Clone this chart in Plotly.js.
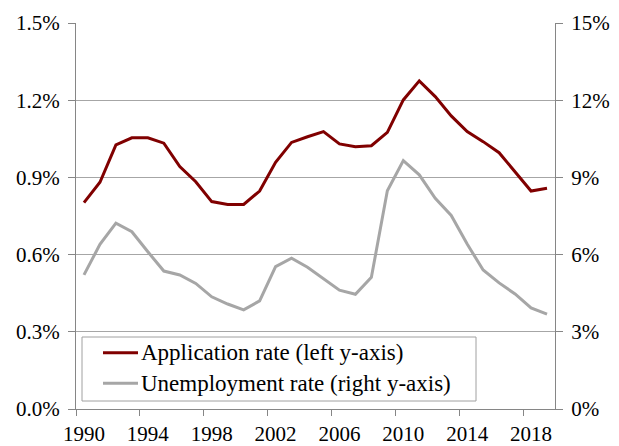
<!DOCTYPE html>
<html>
<head>
<meta charset="utf-8">
<script src="https://cdn.plot.ly/plotly-3.0.1.min.js"></script>
<style>html,body{margin:0;padding:0;background:#fff;}#chart{width:619px;height:446px;}</style>
</head>
<body>
<div id="chart"></div>
<script>
const years = [1990,1991,1992,1993,1994,1995,1996,1997,1998,1999,2000,2001,2002,2003,2004,2005,2006,2007,2008,2009,2010,2011,2012,2013,2014,2015,2016,2017,2018,2019];
// Application rate, % (left axis)
const applicationRate = [0.802,0.881,1.026,1.054,1.054,1.033,0.942,0.883,0.806,0.795,0.795,0.847,0.959,1.036,1.058,1.078,1.030,1.019,1.023,1.075,1.201,1.275,1.214,1.139,1.078,1.039,0.996,0.920,0.847,0.858];
// Unemployment rate, % (right axis)
const unemploymentRate = [5.21,6.40,7.22,6.89,6.11,5.36,5.21,4.88,4.36,4.08,3.85,4.20,5.53,5.86,5.51,5.05,4.62,4.46,5.12,8.48,9.65,9.10,8.19,7.52,6.41,5.40,4.90,4.47,3.93,3.69];
const seriesNames = ['Application rate (left y-axis)', 'Unemployment rate (right y-axis)'];
const seriesColors = ['#800000', '#a6a6a6'];
const xTickLabels = ['1990','1994','1998','2002','2006','2010','2014','2018'];
const xTickPositions = xTickLabels.map(s => Number(s) - 0.5);
const leftTicks = [0,0.3,0.6,0.9,1.2,1.5];
const rightTicks = [0,3,6,9,12,15];

const FAMILY = 'Liberation Serif';
const font = {family: FAMILY, size: 21, color: '#000'};
const axisGray = '#868686';

// plot-area geometry (px) used to place the legend box in paper coordinates
const W = 619, H = 446, M = {l: 76, r: 64, t: 23, b: 37};
const pw = W - M.l - M.r, ph = H - M.t - M.b;
const px = v => (v - M.l) / pw;
const py = v => (H - M.b - v) / ph;

const traces = [
  {x: years, y: applicationRate, type: 'scatter', mode: 'lines', name: seriesNames[0],
   line: {color: seriesColors[0], width: 3}, yaxis: 'y', showlegend: false},
  {x: years, y: unemploymentRate, type: 'scatter', mode: 'lines', name: seriesNames[1],
   line: {color: seriesColors[1], width: 3}, yaxis: 'y2', showlegend: false}
];

const legendRows = [352.7, 383.3];
const shapes = [
  {type: 'rect', xref: 'paper', yref: 'paper', x0: px(82), x1: px(476), y0: py(401), y1: py(337),
   fillcolor: '#fff', line: {color: '#a0a0a0', width: 1}, layer: 'above'}
].concat(legendRows.map((r, i) => ({
  type: 'line', xref: 'paper', yref: 'paper', x0: px(103), x1: px(138), y0: py(r), y1: py(r),
  line: {color: seriesColors[i], width: 3}, layer: 'above'
})));
const annotations = legendRows.map((r, i) => ({
  xref: 'paper', yref: 'paper', x: px(139), y: py(r), xanchor: 'left', yanchor: 'middle',
  text: seriesNames[i], showarrow: false, font: {family: FAMILY, size: 23, color: '#000'}
}));

const layout = {
  width: W, height: H,
  margin: {l: M.l, r: M.r, t: M.t, b: M.b, pad: 0},
  paper_bgcolor: '#fff', plot_bgcolor: '#fff',
  font: font,
  showlegend: false,
  shapes: shapes,
  annotations: annotations,
  xaxis: {
    range: [1989.5, 2019.5], tickmode: 'array', tickvals: xTickPositions, ticktext: xTickLabels,
    ticklabelshift: 8, ticks: 'outside', ticklen: 6, tickcolor: axisGray, tickwidth: 1,
    showline: true, linecolor: axisGray, linewidth: 1, showgrid: false, zeroline: false,
    tickfont: font
  },
  yaxis: {
    range: [0, 1.5], tickmode: 'array', tickvals: leftTicks, ticktext: leftTicks.map(v => v.toFixed(1) + '%'),
    ticks: 'outside', ticklen: 7, tickcolor: axisGray, showline: true, linecolor: axisGray, linewidth: 1,
    showgrid: true, gridcolor: '#a6a6a6', gridwidth: 1, zeroline: false, tickfont: font, ticklabelstandoff: 4
  },
  yaxis2: {
    range: [0, 15], overlaying: 'y', side: 'right', tickmode: 'array', tickvals: rightTicks,
    ticktext: rightTicks.map(v => v + '%'), ticks: 'outside', ticklen: 7, tickcolor: axisGray,
    showline: true, linecolor: axisGray, linewidth: 1, showgrid: false, zeroline: false, tickfont: font,
    ticklabelstandoff: 4
  }
};

Plotly.newPlot('chart', traces, layout, {staticPlot: true, displayModeBar: false});
</script>
</body>
</html>
